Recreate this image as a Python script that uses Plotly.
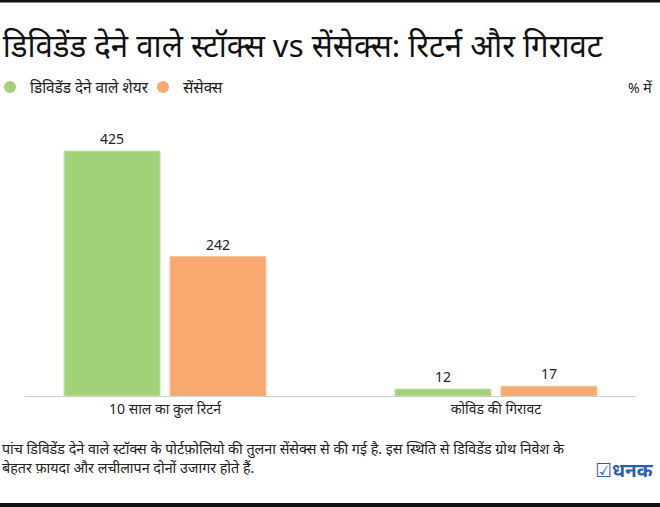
import plotly.graph_objects as go

categories = ["10 साल का कुल रिटर्न", "कोविड की गिरावट"]
series_names = ["डिविडेंड देने वाले शेयर", "सेंसेक्स"]
dividend_values = [425, 12]
sensex_values = [242, 17]

colors = ["#a3d17a", "#f8a96f"]
edge_colors = ["#c2e2a4", "#fbc49b"]
FONT = "Noto Sans, DejaVu Sans, sans-serif"

W, H = 660, 507
L, R, T, B = 25, 24, 130, 111
PW, PH = W - L - R, H - T - B


def cy(ypix):
    return 1 - ypix / H


def px(xpix):
    return (xpix - L) / PW


def py(ypix):
    return (H - B - ypix) / PH


fig = go.Figure()
for name, vals, c, ec in zip(series_names, [dividend_values, sensex_values], colors, edge_colors):
    fig.add_trace(go.Bar(
        x=categories, y=vals, name=name,
        marker=dict(color=c, line=dict(color=ec, width=1)),
        text=[str(v) for v in vals], textposition="outside",
        textfont=dict(size=14, color="#222222", family=FONT),
        cliponaxis=False, showlegend=False,
    ))
    fig.add_trace(go.Scatter(
        x=[None], y=[None], mode="markers", name=name,
        marker=dict(symbol="circle", size=12, color=c),
        showlegend=True,
    ))

fig.update_layout(
    width=W, height=H,
    paper_bgcolor="white", plot_bgcolor="white",
    margin=dict(l=L, r=R, t=T, b=B, autoexpand=False),
    barmode="group", bargap=0.36, bargroupgap=0.094,
    font=dict(family=FONT, size=14, color="#222222"),
    title=dict(text="डिविडेंड देने वाले स्टॉक्स vs सेंसेक्स: रिटर्न और गिरावट",
               x=0.004, xanchor="left", y=cy(46), yanchor="middle",
               font=dict(size=31.2, color="#111111", family=FONT)),
    legend=dict(orientation="h", x=px(-10), xanchor="left", y=py(87), yanchor="middle",
                font=dict(size=15.3, color="#222222"), itemsizing="constant",
                itemwidth=30, entrywidth=108, entrywidthmode="pixels",
                traceorder="normal", bgcolor="rgba(0,0,0,0)"),
    xaxis=dict(range=[-0.423, 1.423], showline=True, linecolor="#cccccc", linewidth=1,
               ticks="", showgrid=False, zeroline=False,
               tickfont=dict(size=14, color="#222222")),
    yaxis=dict(range=[0, 461.6], visible=False, showgrid=False, zeroline=False),
)

# top and bottom black bands
fig.add_shape(type="rect", xref="paper", yref="paper", x0=px(-5), x1=px(665),
              y0=py(2.5), y1=py(-5), line=dict(width=0), fillcolor="#111111")
fig.add_shape(type="rect", xref="paper", yref="paper", x0=px(-5), x1=px(665),
              y0=py(512), y1=py(503), line=dict(width=0), fillcolor="#111111")

fig.add_annotation(text="% में", xref="paper", yref="paper", x=px(654), y=py(87),
                   xanchor="right", yanchor="middle", showarrow=False,
                   font=dict(size=14, color="#222222"))
fig.add_annotation(text="पांच डिविडेंड देने वाले स्टॉक्स के पोर्टफ़ोलियो की तुलना सेंसेक्स से की गई है. इस स्थिति से डिविडेंड ग्रोथ निवेश के<br>बेहतर फ़ायदा और लचीलापन दोनों उजागर होते हैं.",
                   xref="paper", yref="paper", x=px(0), y=py(458),
                   xanchor="left", yanchor="middle", align="left", showarrow=False,
                   font=dict(size=14.3, color="#222222"))
fig.add_annotation(text="<b>☑धनक</b>", xref="paper", yref="paper", x=px(656), y=py(470),
                   xanchor="right", yanchor="middle", showarrow=False,
                   font=dict(size=19, color="#2b5fae"))

fig.write_html("out.html", config={"displayModeBar": False},
               post_script="document.body.style.margin='0px';document.body.style.padding='0px';")
